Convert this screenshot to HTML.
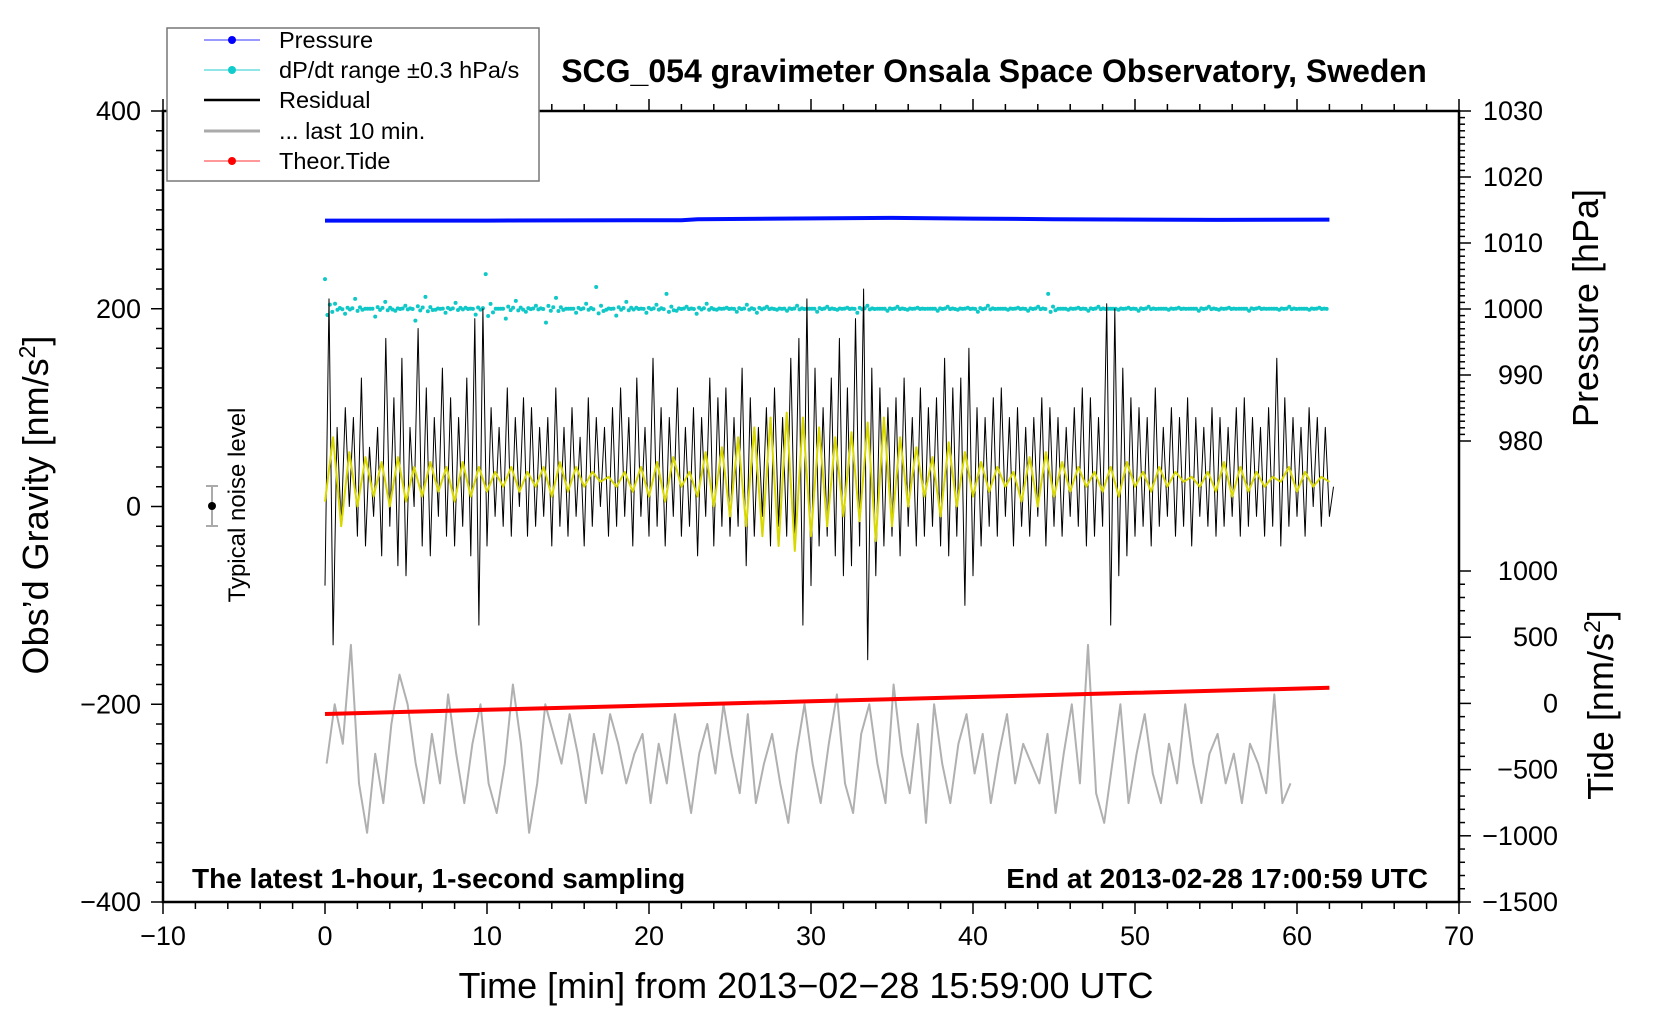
<!DOCTYPE html>
<html><head><meta charset="utf-8"><style>
body{margin:0;background:#fff;overflow:hidden;}
svg{display:block;font-family:"Liberation Sans",sans-serif;}
</style></head><body>
<svg id="chart" width="1660" height="1020" viewBox="0 0 1660 1020">
<g id="marks"></g>
<rect x="163" y="111" width="1296" height="791" fill="none" stroke="#000" stroke-width="2.5"/>
<g id="axes"></g>
<text x="994" y="82" font-size="32" font-weight="bold" text-anchor="middle">SCG_054 gravimeter Onsala Space Observatory, Sweden</text>
<text x="192" y="888" font-size="28" font-weight="bold">The latest 1-hour, 1-second sampling</text>
<text x="1428" y="888" font-size="28" font-weight="bold" text-anchor="end">End at 2013-02-28 17:00:59 UTC</text>
<text transform="translate(48,505) rotate(-90)" font-size="36" text-anchor="middle">Obs’d Gravity [nm/s<tspan dy="-13" font-size="23">2</tspan><tspan dy="13">]</tspan></text>
<text transform="translate(1598,308) rotate(-90)" font-size="36" text-anchor="middle">Pressure [hPa]</text>
<text transform="translate(1613,705) rotate(-90)" font-size="36" text-anchor="middle">Tide [nm/s<tspan dy="-13" font-size="23">2</tspan><tspan dy="13">]</tspan></text>
<text x="806" y="998" font-size="36" text-anchor="middle">Time [min] from 2013−02−28 15:59:00 UTC</text>
<g>
<line x1="212" y1="486" x2="212" y2="526" stroke="#aaa" stroke-width="2"/>
<line x1="206" y1="486" x2="218" y2="486" stroke="#aaa" stroke-width="2"/>
<line x1="206" y1="526" x2="218" y2="526" stroke="#aaa" stroke-width="2"/>
<circle cx="212" cy="506" r="4" fill="#000"/>
<text transform="translate(245,505) rotate(-90)" font-size="24" text-anchor="middle">Typical noise level</text>
</g>
<g>
<rect x="167" y="28" width="372" height="153" fill="#fff" stroke="#777" stroke-width="1.5"/>
<g><line x1="204" y1="40" x2="260" y2="40" stroke="#33f" stroke-width="1"/><circle cx="232" cy="40" r="4" fill="#00f"/><text x="279" y="48" font-size="23.5">Pressure</text></g>
<g><line x1="204" y1="70" x2="260" y2="70" stroke="#2cc" stroke-width="1"/><circle cx="232" cy="70" r="4" fill="#1cc"/><text x="279" y="78" font-size="23.5">dP/dt range ±0.3 hPa/s</text></g>
<g><line x1="204" y1="100" x2="260" y2="100" stroke="#000" stroke-width="2.5"/><text x="279" y="108" font-size="23.5">Residual</text></g>
<g><line x1="204" y1="131" x2="260" y2="131" stroke="#aaa" stroke-width="3"/><text x="279" y="139" font-size="23.5">... last 10 min.</text></g>
<g><line x1="204" y1="161" x2="260" y2="161" stroke="#f33" stroke-width="1"/><circle cx="232" cy="161" r="4" fill="#f00"/><text x="279" y="169" font-size="23.5">Theor.Tide</text></g>
</g>
</svg>
<script>
const residual=[-100,190,-160,60,-40,80,-20,70,-50,110,-60,40,-30,60,-70,150,-40,90,-80,130,-90,60,-20,160,-60,
100,-70,70,-30,120,-50,90,-60,70,-40,110,-70,170,-140,180,-60,80,-30,60,-40,100,-50,70,-20,90,
-50,80,-40,60,-30,70,-60,100,-40,60,-50,80,-30,50,-60,90,-40,70,-20,60,-50,80,-40,100,-30,
70,-60,110,-30,60,-50,130,-40,80,-60,70,-30,100,-50,60,-40,80,-70,70,-30,110,-60,90,-40,100,
-50,70,-40,120,-80,90,-50,60,-30,80,-60,100,-40,70,-50,130,-60,150,-140,190,-100,120,-60,80,-50,
110,-70,150,-90,100,-80,170,-60,200,-175,120,-90,100,-60,80,-50,90,-70,110,-40,70,-60,100,-50,80,
-40,90,-60,130,-70,100,-50,110,-120,140,-90,80,-60,70,-40,90,-50,100,-30,70,-60,80,-40,60,-50,
70,-30,90,-60,80,-40,70,-50,60,-30,80,-40,100,-60,90,-50,70,-40,185,-140,180,-90,120,-70,90,
-50,80,-40,70,-60,100,-40,60,-30,80,-50,70,-40,90,-60,70,-30,60,-40,80,-50,70,-40,60,-30,
80,-50,90,-40,70,-30,60,-50,80,-40,130,-60,90,-40,70,-30,60,-50,80,-20,70,-40,60,-30,0];
const smoothed=[5,70,-20,55,0,50,10,45,0,50,5,40,10,45,15,40,5,45,10,40,15,35,20,40,15,
35,20,40,10,45,15,40,20,35,25,30,20,35,15,40,10,45,5,50,20,35,10,55,0,60,
-10,70,-20,80,-30,90,-40,95,-45,90,-30,80,-20,70,-10,75,-15,85,-35,90,-20,70,0,60,10,
50,-10,65,0,55,10,45,15,40,20,35,5,50,0,55,10,45,15,40,20,35,15,40,10,45,
20,35,15,40,20,35,25,30,20,35,15,45,10,40,15,35,20,30,25,40,15,35,20,30,25];
const last10=[-260,-200,-240,-140,-280,-330,-250,-300,-220,-170,-200,-260,-300,-230,-280,-190,-250,-300,-240,-200,
-280,-310,-260,-180,-240,-330,-280,-200,-230,-260,-210,-250,-300,-230,-270,-210,-240,-280,-250,-230,
-300,-240,-280,-210,-260,-310,-250,-220,-270,-200,-250,-290,-210,-300,-260,-230,-280,-320,-250,-200,
-260,-300,-240,-190,-280,-310,-230,-200,-260,-300,-180,-250,-290,-220,-320,-200,-260,-300,-240,-210,
-270,-230,-300,-250,-210,-280,-240,-260,-280,-230,-310,-250,-200,-280,-140,-290,-320,-260,-200,-300,
-250,-210,-270,-300,-240,-280,-200,-260,-300,-250,-230,-280,-250,-300,-240,-260,-290,-190,-300,-280];
const dpdt=[230,205,195,210,200,192,207,198,203,188,212,199,196,206,201,194,235,200,190,208,
197,203,186,211,200,196,205,222,199,193,207,201,196,204,215,198,202,195,205,199,
201,197,204,196,202,199,198,203,200,197,202,199,201,196,203,200,198,202,199,201,
200,198,202,199,201,197,203,200,199,201,198,202,215,200,199,201,198,202,200,199,
201,198,202,200,199,201,200,198,202,199,201,200,198,201,200,199,202,200,199,201];
const pressureT=[0,10,22,23,28,35,40,45,55,62];
const pressureV=[1013.4,1013.4,1013.45,1013.6,1013.7,1013.8,1013.7,1013.6,1013.5,1013.55];
const tideT=[0,10,20,30,40,50,62];
const tideV=[-80,-48,-16,16,48,80,118];
const xTicks=[-10,0,10,20,30,40,50,60,70];
const yTicks=[-400,-200,0,200,400];
const pTicks=[980,990,1000,1010,1020,1030];
const tTicks=[-1500,-1000,-500,0,500,1000];

const NS='http://www.w3.org/2000/svg';
const X=t=>163+(t+10)*16.2;
const Y=v=>111+(400-v)*0.98875;
const YP=p=>111+(1030-p)*6.6;
const YT=v=>703.4-v*0.1324;
const marks=document.getElementById('marks'),axes=document.getElementById('axes');
function mk(tag,attrs,parent){const e=document.createElementNS(NS,tag);for(const k in attrs)e.setAttribute(k,attrs[k]);parent.appendChild(e);return e;}
function poly(xs,ys,color,w,name){
  const pts=xs.map((x,i)=>x.toFixed(1)+','+ys[i].toFixed(1)).join(' ');
  const p=mk('polyline',{points:pts,fill:'none',stroke:color,'stroke-width':w,'stroke-linejoin':'round'},marks);
  
  
}
poly(pressureT.map(X),pressureV.map(YP),'#0010ff',4,'pressure-line');
const dg=mk('g',{},marks);


dpdt.forEach((v,i)=>{
  const d=v-200;
  [[0,1],[0.15,-0.6],[0.3,0.4],[0.45,-0.3]].forEach(o=>{
    mk('circle',{cx:X(i*0.62+o[0]),cy:Y(200+d*o[1]*(o[0]===0?1:0.35)),r:2,fill:'#10c8c8'},dg);
  });
});
poly(residual.map((v,i)=>X(i*0.25)),residual.map(v=>Y(v+20)),'#000',1,'residual-line');
poly(smoothed.map((v,i)=>X(i*0.5)),smoothed.map(v=>Y(v)),'#d8d800',2,'smoothed-residual-line');
poly(last10.map((v,i)=>X(0.1+i*0.5)),last10.map(v=>Y(v)),'#b0b0b0',2,'last-10-min-line');
poly(tideT.map(X),tideV.map(YT),'#ff0000',4,'tide-line');

function tick(x1,y1,x2,y2,w){mk('line',{x1,y1,x2,y2,stroke:'#000','stroke-width':w||1.5},axes);}
function label(x,y,s,anchor,name){const t=mk('text',{x,y,'font-size':27,'text-anchor':anchor},axes);t.textContent=String(s).replace('-','−');}
for(let t=-10;t<=70;t+=2){const big=t%10===0;tick(X(t),902,X(t),902+(big?12:7));tick(X(t),111,X(t),111-(big?12:7));}
xTicks.forEach(t=>label(X(t),945,t,'middle','x-tick-label'));
for(let v=-400;v<=400;v+=20){const big=v%200===0;tick(163,Y(v),163-(big?12:7),Y(v));}
yTicks.forEach(v=>label(141,Y(v)+9,v,'end','y-tick-label'));
for(let p=980;p<=1030;p+=1){const big=p%10===0;tick(1459,YP(p),1459+(big?12:6),YP(p));}
pTicks.forEach(p=>label(1543,YP(p)+9,p,'end','pressure-tick-label'));
for(let v=-1500;v<=1000;v+=100){const big=v%500===0;tick(1459,YT(v),1459+(big?12:6),YT(v));}
tTicks.forEach(v=>label(1558,YT(v)+9,v,'end','tide-tick-label'));
</script>
</body></html>
